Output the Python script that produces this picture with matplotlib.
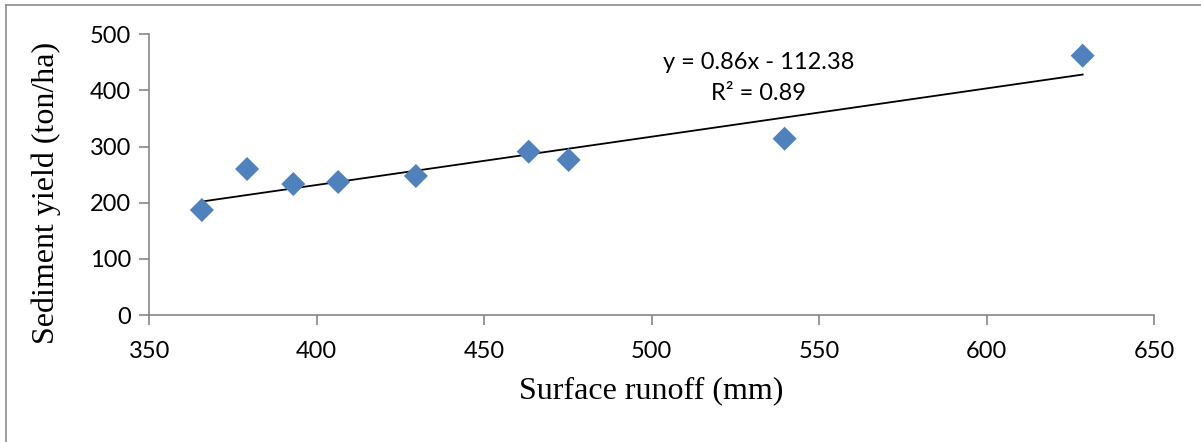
import numpy as np
import matplotlib
matplotlib.use('Agg')
import matplotlib.pyplot as plt
from matplotlib.lines import Line2D

runoff = [365.7, 379.2, 393.0, 406.4, 429.6, 463.3, 475.2, 539.7, 628.7]
sediment = [187.0, 260.1, 233.3, 236.9, 247.6, 290.9, 276.1, 314.0, 461.9]
slope, intercept = 0.86, -112.38
r2 = 0.89

fig = plt.figure(figsize=(12.01, 4.42), dpi=100, facecolor='white')
ax = fig.add_axes([149.3 / 1201, 1 - 315 / 442, (1154 - 149.3) / 1201, (315 - 34.3) / 442])

# outer chart frame (top and left edges visible)
fig.add_artist(Line2D([6 / 1201, 1], [1 - 5 / 442] * 2, transform=fig.transFigure, color='#8c8c8c', lw=1.2))
fig.add_artist(Line2D([6 / 1201] * 2, [0, 1 - 5 / 442], transform=fig.transFigure, color='#8c8c8c', lw=1.2))

ax.scatter(runoff, sediment, marker='D', s=150, color='#4F81BD', edgecolors='none', zorder=3)

xs = np.array([min(runoff), max(runoff)])
ax.plot(xs, slope * xs + intercept, color='black', lw=1.3, zorder=2)

# trendline label
ax.text(532, 450, f'y = {slope:.2f}x - {abs(intercept):.2f}', ha='center', va='center',
        fontsize=17, family='Lato')
ax.text(532, 394, f'R² = {r2:.2f}', ha='center', va='center', fontsize=17, family='Lato')

ax.set_xlim(350, 650)
ax.set_ylim(0, 500)
ax.set_xticks(range(350, 651, 50))
ax.set_yticks(range(0, 501, 100))

for s in ['top', 'right']:
    ax.spines[s].set_visible(False)
for s in ['left', 'bottom']:
    ax.spines[s].set_color('#868686')
    ax.spines[s].set_linewidth(1.2)

ax.tick_params(axis='both', direction='out', length=7, width=1.2, color='#868686',
               labelsize=17, pad=6)
for lab in ax.get_xticklabels() + ax.get_yticklabels():
    lab.set_family('Lato')
ax.tick_params(axis='x', pad=12)

ax.set_xlabel('Surface runoff (mm)', fontsize=23, family='Liberation Serif', labelpad=10)
ax.set_ylabel('Sediment yield (ton/ha)', fontsize=23, family='Liberation Serif')
ax.yaxis.set_label_coords(-0.088, 0.435)

plt.savefig('out.png', dpi=100, facecolor='white')
